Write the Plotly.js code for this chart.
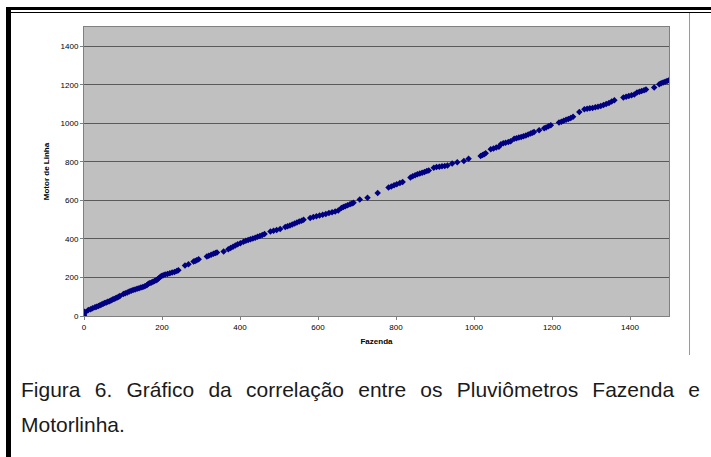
<!DOCTYPE html>
<html>
<head>
<meta charset="utf-8">
<script src="https://cdn.plot.ly/plotly-3.0.1.min.js"></script>
<style>
  html, body { margin:0; padding:0; background:#fff; }
  #wrap { position:relative; width:711px; height:457px; overflow:hidden; }
  #chart { position:absolute; left:0; top:0; width:711px; height:457px; }
  .ov { position:absolute; pointer-events:none; }
  .cap { position:absolute; font-family:"Liberation Sans", Arial, sans-serif; font-size:21px; color:#1a1a1a; line-height:22px; white-space:nowrap; }
</style>
</head>
<body>
<div id="wrap">
  <div id="chart"></div>
  <div class="ov" style="left:6px;top:7px;width:5px;height:450px;background:#000;"></div>
  <div class="ov" style="left:6px;top:7px;width:705px;height:3px;background:#000;"></div>
  <div class="ov" style="left:11px;top:12px;width:700px;height:1px;background:#000;"></div>
  <div class="ov" style="left:689px;top:13px;width:1px;height:342px;background:#9a9a9a;"></div>
  <div class="cap" id="cap1" style="left:21px;top:379px;width:679px;white-space:normal;text-align:justify;text-align-last:justify;">Figura 6. Gráfico da correlação entre os Pluviômetros Fazenda e</div>
  <div class="cap" id="cap2" style="left:21px;top:414px;">Motorlinha.</div>
</div>
<script>
// Pluviômetro Fazenda (x) vs Motor de Linha (y)
const fazenda = [
  0,0,0,1,3,
  11,17,22,28,
  32,37,41,45,49,53,57,61,65,69,73,77,81,85,89,92,
  101,106,111,116,121,126,131,136,141,146,151,156,161,
  165,169,173,177,181,185,188,191,
  196,199,203,208,214,220,226,232,238,242,
  259,268,
  281,285,289,294,
  315,320,326,332,337,341,
  358,
  370,376,382,388,394,401,
  409,415,421,427,433,439,445,451,457,463,
  478,486,494,503,
  516,522,528,534,540,546,552,558,563,
  580,588,596,604,612,620,628,636,644,652,
  660,665,670,676,682,687,691,
  707,727,753,
  781,788,795,802,810,817,
  837,843,849,855,861,867,873,879,884,
  897,904,911,918,925,932,
  944,957,974,986,
  1017,1022,1026,1030,
  1043,1050,1057,1064,
  1069,1075,1081,1088,1094,
  1103,1109,1115,1121,1127,1133,1139,1145,1150,1154,
  1167,1180,1185,1191,1197,
  1218,1224,1230,1236,1242,1248,1254,
  1270,
  1283,1290,1297,1304,1311,1318,1325,1332,1339,1346,1353,1360,
  1383,1390,1397,1404,1411,
  1418,1424,1430,1436,1441,
  1462,
  1475,1480,1485,1490,1495,1500
];
const motorLinha = [
  0,5,14,22,18,
  31,35,40,45,
  48,52,56,60,63,67,70,74,77,81,85,88,92,96,100,104,
  114,118,122,127,131,135,138,141,144,148,151,155,160,
  167,171,174,178,182,185,189,194,
  204,208,212,215,218,222,226,229,233,238,
  262,268,
  283,286,290,294,
  309,313,318,323,327,330,
  335,
  347,353,359,366,372,378,
  386,390,394,398,402,406,411,415,420,425,
  439,443,447,451,
  462,466,470,475,480,485,490,495,500,
  509,514,518,522,526,530,535,539,543,548,
  561,566,570,575,580,584,588,
  605,614,639,
  667,672,678,684,690,696,
  719,725,731,736,740,744,748,752,755,
  770,773,775,777,779,781,
  792,798,804,816,
  830,835,840,845,
  865,869,874,878,
  892,896,899,903,907,
  920,923,926,929,933,937,942,947,951,955,
  964,974,979,985,990,
  1004,1008,1013,1018,1023,1028,1034,
  1059,
  1073,1076,1078,1080,1083,1086,1090,1095,1100,1106,1113,1120,
  1134,1138,1142,1146,1150,
  1160,1164,1168,1172,1176,
  1186,
  1203,1208,1212,1216,1220,1224
];
const xTitle = "Fazenda";
const yTitle = "Motor de Linha";

const font = "Liberation Sans, Arial, sans-serif";
const trace = {
  x: fazenda, y: motorLinha, type: "scatter", mode: "markers",
  marker: { symbol: "diamond", size: 5, color: "#000080", line: { width: 0 } },
  hoverinfo: "skip"
};
const layout = {
  width: 711, height: 457,
  margin: { l: 84, r: 42, t: 27, b: 141 },
  paper_bgcolor: "#ffffff",
  plot_bgcolor: "#c0c0c0",
  showlegend: false,
  font: { family: font, size: 8, color: "#000" },
  xaxis: {
    range: [0, 1500], dtick: 200, tick0: 0,
    ticks: "outside", ticklen: 3, tickcolor: "#808080",
    showgrid: false, zeroline: false,
    showline: true, linecolor: "#808080", linewidth: 1, mirror: true,
    tickfont: { family: font, size: 8, color: "#000" },
    title: { text: "<b>" + xTitle + "</b>", font: { family: font, size: 8, color: "#000" }, standoff: 7 }
  },
  yaxis: {
    range: [0, 1500], dtick: 200, tick0: 0,
    ticks: "outside", ticklen: 3, tickcolor: "#808080",
    showgrid: true, gridcolor: "#5a5a5a", gridwidth: 1, zeroline: false,
    showline: true, linecolor: "#808080", linewidth: 1, mirror: true,
    tickfont: { family: font, size: 8, color: "#000" },
    title: { text: "<b>" + yTitle + "</b>", font: { family: font, size: 8, color: "#000" }, standoff: 9 }
  }
};
Plotly.newPlot("chart", [trace], layout, { displayModeBar: false, staticPlot: true });
</script>
</body>
</html>
